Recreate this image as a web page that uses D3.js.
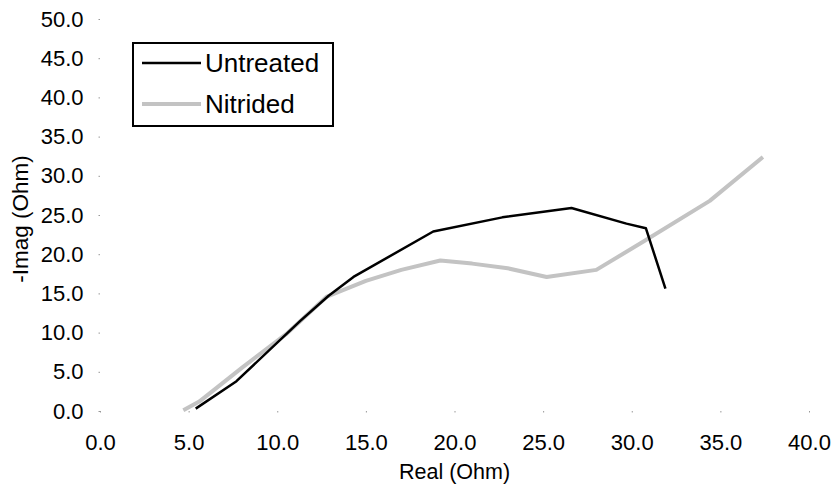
<!DOCTYPE html>
<html>
<head>
<meta charset="utf-8">
<script src="https://cdn.jsdelivr.net/npm/d3@7"></script>
<style>
  body { margin: 0; background: #fff; }
  svg { display: block; font-family: "Liberation Sans", Arial, sans-serif; }
</style>
</head>
<body>
<svg width="834" height="488"></svg>
<script>
// series (Real, -Imag) in Ohm
var untreatedReal = [5.4, 7.7, 11.3, 12.9, 14.3, 18.8, 22.7, 26.6, 29.7, 30.8, 31.9];
var untreatedImag = [0.3, 3.8, 11.5, 14.7, 17.1, 22.9, 24.7, 25.9, 23.9, 23.3, 15.6];
var nitridedReal = [4.7, 5.6, 8.0, 10.5, 12.8, 15.0, 17.0, 19.2, 21.0, 23.0, 25.2, 28.0, 30.8, 34.4, 37.4];
var nitridedImag = [0.1, 1.2, 5.5, 9.8, 14.6, 16.6, 18.0, 19.2, 18.8, 18.2, 17.1, 18.0, 21.8, 26.8, 32.4];
var xTicks = [0, 5, 10, 15, 20, 25, 30, 35, 40];
var yTicks = [0, 5, 10, 15, 20, 25, 30, 35, 40, 45, 50];
var seriesNames = ["Untreated", "Nitrided"];

function chart() {
  var svg = d3.select("svg"),
      plotLeft = 100, plotRight = 809, plotTop = 19, plotBottom = 411;

  var x = d3.scaleLinear().domain([0, 40]).range([plotLeft, plotRight]);
  var y = d3.scaleLinear().domain([0, 50]).range([plotBottom, plotTop]);

  var toPoints = function(xs, ys) {
    return xs.map(function(d, i) { return [d, ys[i]]; });
  };
  var series = [
    { name: seriesNames[0], pts: toPoints(untreatedReal, untreatedImag), color: "#000", width: 2.5 },
    { name: seriesNames[1], pts: toPoints(nitridedReal, nitridedImag), color: "#c3c3c3", width: 4 }
  ];

  // axes: no domain line, just faint dots at the ticks
  var xAxis = svg.append("g")
      .attr("transform", "translate(0," + plotBottom + ")")
      .call(d3.axisBottom(x).tickValues(xTicks).tickSize(1.5).tickPadding(22)
        .tickFormat(d3.format(".1f")));
  var yAxis = svg.append("g")
      .attr("transform", "translate(" + plotLeft + ",0)")
      .call(d3.axisLeft(y).tickValues(yTicks).tickSize(1.5).tickPadding(15)
        .tickFormat(d3.format(".1f")));
  [xAxis, yAxis].forEach(function(a) {
    a.select(".domain").remove();
    a.selectAll(".tick line").attr("stroke", "#999");
    a.selectAll(".tick text").attr("font-size", 22).attr("fill", "#000")
      .attr("font-family", "Liberation Sans, Arial, sans-serif");
  });

  svg.append("text")
      .attr("x", (plotLeft + plotRight) / 2)
      .attr("y", 479)
      .attr("text-anchor", "middle")
      .attr("font-size", 21.5)
      .text("Real (Ohm)");
  svg.append("text")
      .attr("transform", "translate(28," + 219 + ") rotate(-90)")
      .attr("text-anchor", "middle")
      .attr("font-size", 22.5)
      .text("-Imag (Ohm)");

  var line = d3.line()
      .x(function(d) { return x(d[0]); })
      .y(function(d) { return y(d[1]); });

  // draw nitrided first so the black line stays on top
  svg.selectAll("path.series")
      .data(series.slice().reverse())
    .enter()
    .append("path")
      .attr("class", "series")
      .attr("d", function(d) { return line(d.pts); })
      .attr("fill", "none")
      .attr("stroke", function(d) { return d.color; })
      .attr("stroke-width", function(d) { return d.width; })
      .attr("stroke-linejoin", "round");

  // legend
  var legend = svg.append("g");
  legend.append("rect")
      .attr("x", 133).attr("y", 43)
      .attr("width", 200).attr("height", 83)
      .attr("fill", "#fff")
      .attr("stroke", "#000")
      .attr("stroke-width", 2);
  var item = legend.selectAll("g.item")
      .data(series)
    .enter()
    .append("g")
      .attr("class", "item")
      .attr("transform", function(d, i) { return "translate(0," + (63 + i * 41) + ")"; });
  item.append("line")
      .attr("x1", 142).attr("x2", 201)
      .attr("stroke", function(d) { return d.color; })
      .attr("stroke-width", function(d) { return d.width; });
  item.append("text")
      .attr("x", 205)
      .attr("dy", "0.35em")
      .attr("font-size", 26)
      .text(function(d) { return d.name; });
}
chart();
</script>
</body>
</html>
